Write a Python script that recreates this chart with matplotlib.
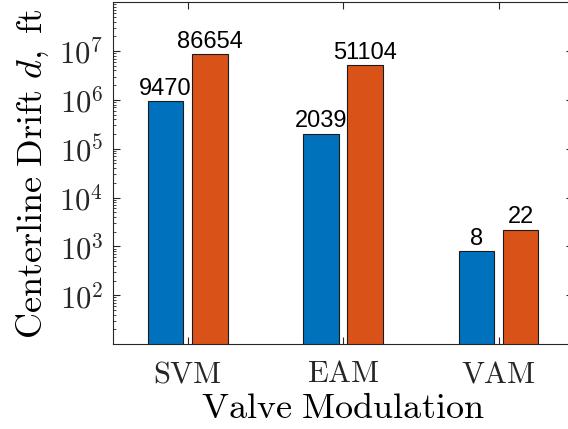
import matplotlib
matplotlib.use("Agg")
import matplotlib.pyplot as plt
import numpy as np

# data
categories = ["SVM", "EAM", "VAM"]
series_a = [947000, 203900, 800]      # blue bars
series_b = [8665400, 5110400, 2200]   # orange bars
labels_a = ["9470", "2039", "8"]
labels_b = ["86654", "51104", "22"]

plt.rcParams["mathtext.fontset"] = "cm"

fig = plt.figure(figsize=(5.68, 4.29), dpi=100)
ax = fig.add_axes([0.199, 0.198, 1.009 - 0.199, 0.995 - 0.198])

x = np.arange(1, len(categories) + 1)
w = 0.23
off = 0.142
ba = ax.bar(x - off, series_a, w, color="#0072BD", edgecolor="#1a1a1a", linewidth=0.8)
bb = ax.bar(x + off, series_b, w, color="#D95319", edgecolor="#1a1a1a", linewidth=0.8)

ax.set_yscale("log")
ax.set_ylim(10, 1e8)
ax.set_xlim(0.52, 3.48)

for rect, lab in zip(list(ba) + list(bb), labels_a + labels_b):
    ax.text(rect.get_x() + rect.get_width() / 2, rect.get_height() * 1.06, lab,
            ha="center", va="bottom", fontsize=17, family="Liberation Sans")

ax.set_xticks(x)
ax.set_xticklabels([r"$\mathrm{%s}$" % c for c in categories], fontsize=22)
ax.set_yticks([1e2, 1e3, 1e4, 1e5, 1e6, 1e7])
ax.set_yticklabels([r"$10^{%d}$" % k for k in range(2, 8)], fontsize=22)

ax.tick_params(axis="both", which="both", direction="in", top=True, right=True, colors="#262626")
ax.tick_params(axis="y", which="major", length=5, pad=7)
ax.tick_params(axis="y", which="minor", length=2.5)
ax.tick_params(axis="x", which="major", length=5, pad=11)
for s in ax.spines.values():
    s.set_color("#262626")
    s.set_linewidth(0.8)

ax.set_xlabel(r"$\mathrm{Valve\ Modulation}$", fontsize=26, labelpad=2)
ax.set_ylabel(r"$\mathrm{Centerline\ Drift}\ d,\ \mathrm{ft}$", fontsize=26, labelpad=6)

fig.savefig("out.png", dpi=100)
